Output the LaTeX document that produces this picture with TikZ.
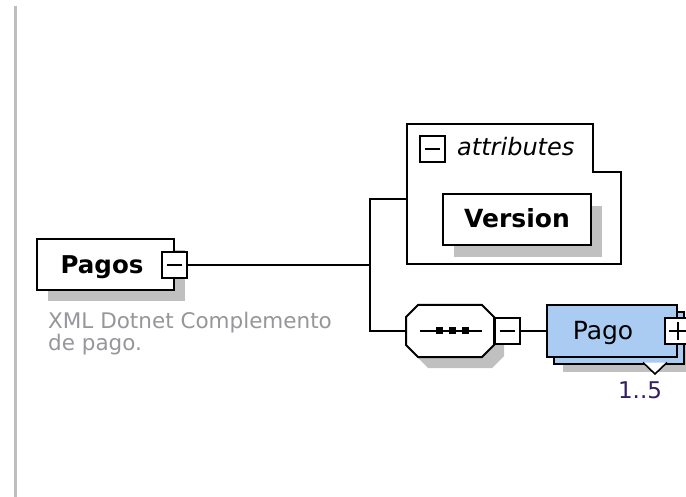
\documentclass[tikz,border=0pt]{standalone}
\usepackage{fontspec}
\setmainfont{DejaVu Sans}
\usetikzlibrary{calc}
\definecolor{shadowgray}{RGB}{192,192,192}
\definecolor{pagoblue}{RGB}{170,204,242}
\definecolor{descgray}{RGB}{150,150,155}
\definecolor{multcol}{RGB}{50,30,100}
\definecolor{bargray}{RGB}{190,190,190}
\begin{document}
\begin{tikzpicture}[x=1pt,y=-1pt,
  elbox/.style={draw=black, fill=white, line width=2pt, inner sep=0pt},
  shadowbox/.style={fill=shadowgray, inner sep=0pt},
  pmbox/.style={draw=black, fill=white, line width=2pt, minimum width=25pt, minimum height=26pt, inner sep=0pt},
  minussign/.style={path picture={\draw[line width=2pt] ($(path picture bounding box.west)+(5pt,0pt)$) -- ($(path picture bounding box.east)+(-5pt,0pt)$);}},
  plussign/.style={path picture={\draw[line width=2pt] ($(path picture bounding box.west)+(4pt,0pt)$) -- ($(path picture bounding box.east)+(-4pt,0pt)$);
      \draw[line width=2pt] ($(path picture bounding box.north)+(0pt,-4pt)$) -- ($(path picture bounding box.south)+(0pt,4pt)$);}},
  conn/.style={draw=black, line width=2pt},
  txt/.style={inner sep=0pt, anchor=base}
]
\useasboundingbox (0,0) rectangle (686,497);
\fill[white] (0,0) rectangle (686,497);

% left bar
\draw[line width=3pt, bargray] (15.5,6) -- (15.5,497);

% Pagos element
\node[shadowbox, minimum width=137pt, minimum height=51pt] (pagossh) at (116.5,276) {};
\node[elbox, minimum width=137pt, minimum height=51pt] (pagos) at (105.5,265) {};
\node[txt, font=\bfseries\fontsize{24.5}{28}\selectfont] (pagostxt) at (102,273.5) {Pagos};
\node[pmbox, minussign] (pagosm) at (174,265) {};
\node[txt, anchor=base west, text=descgray, font=\fontsize{21.5}{24}\selectfont] (desc1) at (48,328) {XML Dotnet Complemento};
\node[txt, anchor=base west, text=descgray, font=\fontsize{21.5}{24}\selectfont] (desc2) at (48,350) {de pago.};

% junction
\coordinate (j) at (370,265);
\coordinate (attrin) at (407,199);

% attributes group
\draw[line width=2pt, fill=white] (407,124) -- (593,124) -- (593,172) -- (621,172) -- (621,264) -- (407,264) -- cycle;
\node[pmbox, minussign] (attrm) at (432.5,149) {};
\node[txt, anchor=base west, font=\itshape\fontsize{24}{28}\selectfont] (attrtxt) at (457,156) {attributes};
\node[shadowbox, minimum width=148pt, minimum height=51pt] (versionsh) at (528,231.5) {};
\node[elbox, minimum width=148pt, minimum height=51pt] (version) at (517,219.5) {};
\node[txt, font=\bfseries\fontsize{25}{30}\selectfont] (versiontxt) at (517,228) {Version};

% sequence compositor
\node[inner sep=0pt, minimum width=88pt, minimum height=52pt] (seq) at (450,331) {};
\begin{scope}[shift={(10,11)}]
\fill[shadowgray] (406,317) -- (418,305) -- (482,305) -- (494,317) -- (494,345) -- (482,357) -- (418,357) -- (406,345) -- cycle;
\end{scope}
\draw[line width=2pt, fill=white] (406,317) -- (418,305) -- (482,305) -- (494,317) -- (494,345) -- (482,357) -- (418,357) -- (406,345) -- cycle;
\draw[line width=1.6pt] (420,331) -- (482,331);
\foreach \dx in {439,452,465} { \fill (\dx-3.5,327.5) rectangle (\dx+3.5,334.5); }
\node[pmbox, minussign] (seqm) at (507,331) {};

% Pago element (multiple)
\node[shadowbox, minimum width=130pt, minimum height=51pt] (pagosh) at (628,346) {};
\node[draw=black, fill=pagoblue, line width=2pt, inner sep=0pt, minimum width=130pt, minimum height=51pt] (pagoback) at (619,338) {};
\fill[white] (643,362.5) -- (655,374) -- (667,362.5) -- cycle;
\draw[line width=1.6pt] (643,362.5) -- (655,374) -- (667,362.5);
\node[draw=black, fill=pagoblue, line width=2pt, inner sep=0pt, minimum width=130pt, minimum height=51pt] (pago) at (612,331) {};
\node[txt, font=\fontsize{25}{30}\selectfont] (pagotxt) at (603,340) {Pago};
\node[pmbox, plussign] (pagop) at (677.5,331) {};
\node[txt, text=multcol, font=\fontsize{23}{28}\selectfont] (mult) at (640,398) {1..5};

% connectors
\draw[conn] (pagosm.east) -- (j);
\draw[conn] (attrin) -| (j);
\draw[conn] (seq.west) -| (j);
\draw[conn] (seqm.east) -- (pago.west);
\end{tikzpicture}
\end{document}
